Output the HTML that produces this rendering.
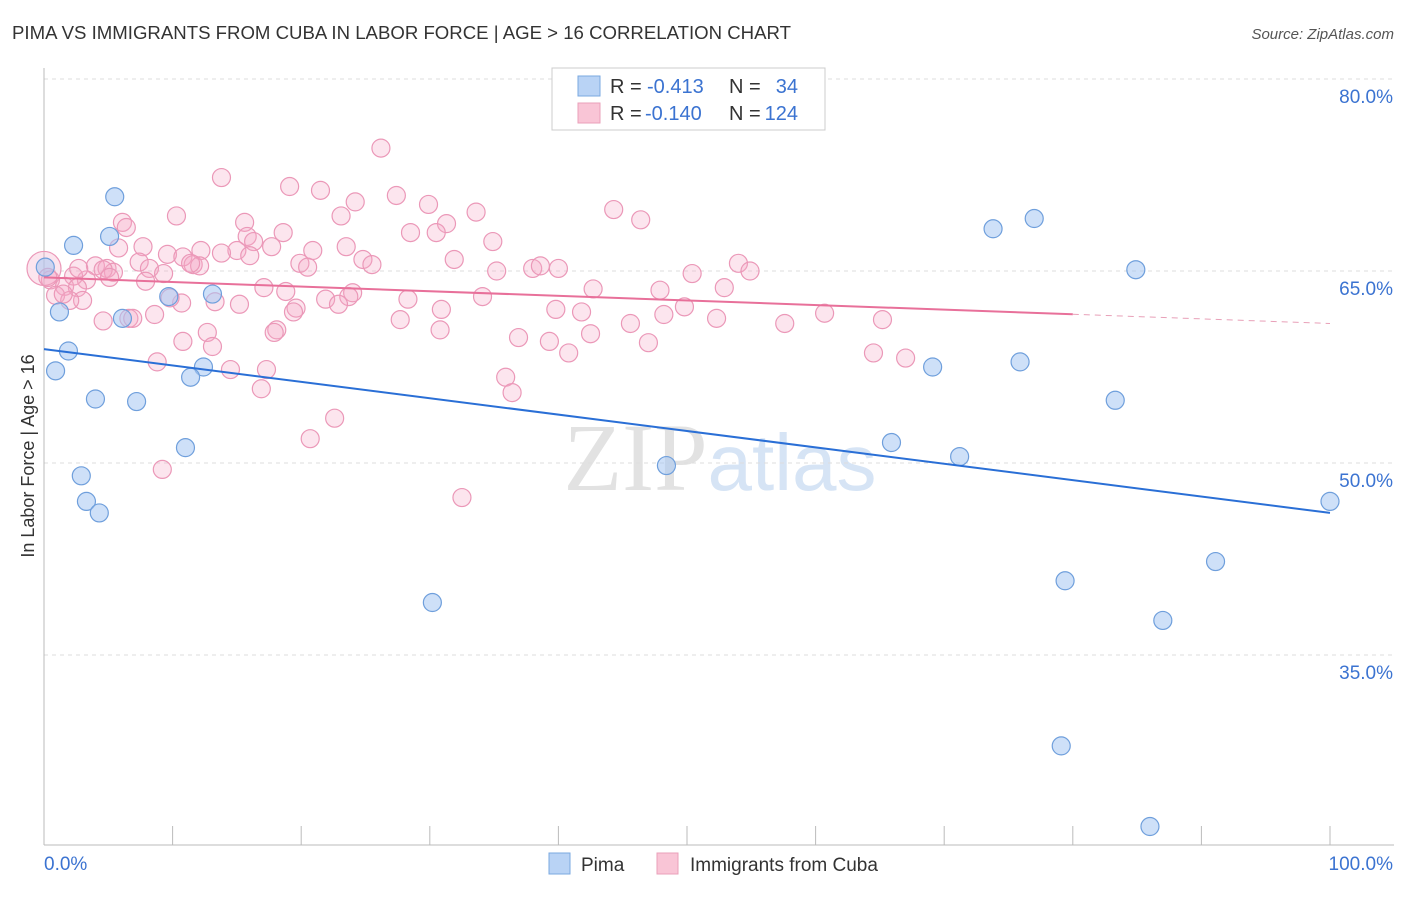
<!DOCTYPE html>
<html><head><meta charset="utf-8"><style>
body{margin:0;background:#fff;font-family:"Liberation Sans",sans-serif;}
svg text{font-family:"Liberation Sans",sans-serif;}
</style></head><body>
<svg id="chart" width="1406" height="892" xmlns="http://www.w3.org/2000/svg">
<text x="12" y="39" font-size="18" fill="#333" textLength="779" lengthAdjust="spacingAndGlyphs">PIMA VS IMMIGRANTS FROM CUBA IN LABOR FORCE | AGE &gt; 16 CORRELATION CHART</text>
<text x="1394" y="39" font-size="15" fill="#555" text-anchor="end" font-style="italic">Source: ZipAtlas.com</text>
<text x="720" y="490" font-size="96" text-anchor="middle"><tspan fill="#e2e2e2" font-family="Liberation Serif">ZIP</tspan><tspan fill="#d6e4f5" font-size="80">atlas</tspan></text>
<g id="grid"></g>
<g id="axes"></g>
<g id="marks"></g>
<text transform="translate(34,456) rotate(-90)" font-size="18" fill="#333" text-anchor="middle">In Labor Force | Age &gt; 16</text>
<g>
<rect x="552" y="68" width="273" height="62" fill="#fff" stroke="#ccc"/>
<rect x="578" y="76" width="22" height="20" fill="#b9d3f5" stroke="#7aa8e0"/>
<rect x="578" y="103" width="22" height="20" fill="#f9c5d6" stroke="#eaa0ba"/>
<text x="610" y="93" font-size="20" fill="#333">R =</text>
<text x="647" y="93" font-size="20" fill="#3b73d1">-0.413</text>
<text x="729" y="93" font-size="20" fill="#333">N =</text>
<text x="798" y="93" font-size="20" fill="#3b73d1" text-anchor="end">34</text>
<text x="610" y="120" font-size="20" fill="#333">R =</text>
<text x="645" y="120" font-size="20" fill="#3b73d1">-0.140</text>
<text x="729" y="120" font-size="20" fill="#333">N =</text>
<text x="798" y="120" font-size="20" fill="#3b73d1" text-anchor="end">124</text>
</g>
<g>
<rect x="549" y="853" width="21" height="21" fill="#b9d3f5" stroke="#7aa8e0"/>
<text x="581" y="871" font-size="19" fill="#333">Pima</text>
<rect x="657" y="853" width="21" height="21" fill="#f9c5d6" stroke="#eaa0ba"/>
<text x="690" y="871" font-size="19" fill="#333">Immigrants from Cuba</text>
</g>
</svg>
<script>
const yTicks=[80,65,50,35];
const yTickLabels=["80.0%","65.0%","50.0%","35.0%"];
const xTickLabels=["0.0%","100.0%"];
const pimaX=[0.1,5.5,2.3,5.1,1.2,9.7,13.1,6.1,1.9,0.9,12.4,11.4,4.0,7.2,11.0,2.9,3.3,4.3,30.2,48.4,65.9,71.2,69.1,75.9,73.8,77.0,84.9,83.3,100,91.1,79.4,87.0,79.1,86.0];
const pimaY=[65.3,70.8,67.0,67.7,61.8,63.0,63.2,61.3,58.75,57.2,57.5,56.7,55.0,54.8,51.2,49.0,47.0,46.1,39.1,49.8,51.6,50.5,57.5,57.9,68.3,69.1,65.1,54.9,47.0,42.3,40.8,37.7,27.9,21.6];
const cubaX=[26.2,13.8,19.1,21.5,27.4,24.2,29.9,44.3,33.6,10.3,46.4,23.1,15.6,6.1,6.4,31.3,28.5,30.5,15.8,18.6,16.3,34.9,7.7,5.8,17.7,20.9,23.5,15.0,12.2,9.6,10.8,13.8,16.0,24.8,25.5,31.9,19.9,20.5,11.6,12.1,11.4,7.4,8.2,4.0,4.9,5.4,4.6,9.3,35.2,38.0,38.6,40.0,50.4,54.0,54.9,7.9,5.1,3.3,2.3,0.5,1.6,0.9,2.6,3.0,2.0,1.5,17.1,18.8,24.0,23.7,28.3,21.9,22.9,42.7,47.9,52.9,34.1,10.7,13.3,15.2,19.6,19.4,30.9,39.8,41.8,48.2,49.8,52.3,57.6,60.7,65.2,4.6,6.6,6.9,8.6,27.7,12.7,18.1,17.9,30.8,36.9,42.5,45.6,39.3,47.0,40.8,13.1,10.8,8.8,14.5,17.3,64.5,67.0,35.9,16.9,36.4,22.6,20.7,9.2,32.5,0,0.3,2.7,9.8];
const cubaY=[74.6,72.3,71.6,71.3,70.9,70.4,70.2,69.8,69.6,69.3,69.0,69.3,68.8,68.8,68.4,68.7,68.0,68.0,67.7,68.0,67.3,67.3,66.9,66.8,66.9,66.6,66.9,66.6,66.6,66.3,66.1,66.4,66.2,65.9,65.5,65.9,65.6,65.3,65.5,65.4,65.6,65.7,65.2,65.4,65.2,64.9,65.1,64.8,65.0,65.2,65.4,65.2,64.8,65.6,65.0,64.2,64.5,64.3,64.6,64.3,63.8,63.1,63.7,62.7,62.7,63.2,63.7,63.4,63.3,63.0,62.8,62.8,62.4,63.6,63.5,63.7,63.0,62.5,62.6,62.4,62.1,61.8,62.0,62.0,61.8,61.6,62.2,61.3,60.9,61.7,61.2,61.1,61.3,61.3,61.6,61.2,60.2,60.4,60.2,60.4,59.8,60.1,60.9,59.5,59.4,58.6,59.1,59.5,57.9,57.3,57.3,58.6,58.2,56.7,55.8,55.5,53.5,51.9,49.5,47.3,65.2,64.5,65.2,62.9];
const pimaTrend=[58.9,46.1];
const cubaTrend=[64.5,60.9];
const cubaSolidEnd=80;
const X=v=>44+v*12.86;
const Y=v=>79+(80-v)*12.8;
const NS="http://www.w3.org/2000/svg";
function mk(tag,attrs,parent){const e=document.createElementNS(NS,tag);for(const k in attrs)e.setAttribute(k,attrs[k]);parent.appendChild(e);return e;}
const grid=document.getElementById('grid'),axes=document.getElementById('axes'),marks=document.getElementById('marks');
yTicks.forEach((t,i)=>{
 const l=mk('line',{x1:44,x2:1394,y1:Y(t),y2:Y(t),stroke:'#ddd','stroke-dasharray':'4,4'},grid);
 
 
 const tx=mk('text',{x:1393,y:Y(t)+24,'font-size':19,fill:'#3b73d1','text-anchor':'end'},axes);
 tx.textContent=yTickLabels[i];
 
 
});
const ax=mk('line',{x1:44,x2:44,y1:68,y2:845,stroke:'#bbb'},axes);


const bx=mk('line',{x1:44,x2:1394,y1:845,y2:845,stroke:'#bbb'},axes);


for(let i=0;i<=10;i++){
 const t=mk('line',{x1:X(i*10),x2:X(i*10),y1:826,y2:845,stroke:'#bbb'},axes);
 
 
}
[[0,'start'],[100,'end']].forEach((p,i)=>{
 const tx=mk('text',{x:i?1393:44,y:870,'font-size':19,fill:'#3b73d1','text-anchor':p[1]},axes);
 tx.textContent=xTickLabels[i];
 
 
});
cubaX.forEach((v,i)=>{
 const c=mk('circle',{cx:X(v),cy:Y(cubaY[i]),r:(i===120?17:9),fill:'rgba(245,170,198,0.3)',stroke:'#eb98b8','stroke-width':1.2},marks);
 
 
});
pimaX.forEach((v,i)=>{
 const c=mk('circle',{cx:X(v),cy:Y(pimaY[i]),r:9,fill:'rgba(165,198,242,0.55)',stroke:'#6f9fdc','stroke-width':1.2},marks);
 
 
});
const cyAt=x=>cubaTrend[0]+(cubaTrend[1]-cubaTrend[0])*x/100;
let l1=mk('line',{x1:X(0),y1:Y(cubaTrend[0]),x2:X(cubaSolidEnd),y2:Y(cyAt(cubaSolidEnd)),stroke:'#e8709a','stroke-width':2},marks);


let l2=mk('line',{x1:X(cubaSolidEnd),y1:Y(cyAt(cubaSolidEnd)),x2:X(100),y2:Y(cubaTrend[1]),stroke:'#e8a0b8','stroke-width':1,'stroke-dasharray':'6,5'},marks);


let l3=mk('line',{x1:X(0),y1:Y(pimaTrend[0]),x2:X(100),y2:Y(pimaTrend[1]),stroke:'#2a6fd6','stroke-width':2},marks);


</script>
</body></html>
